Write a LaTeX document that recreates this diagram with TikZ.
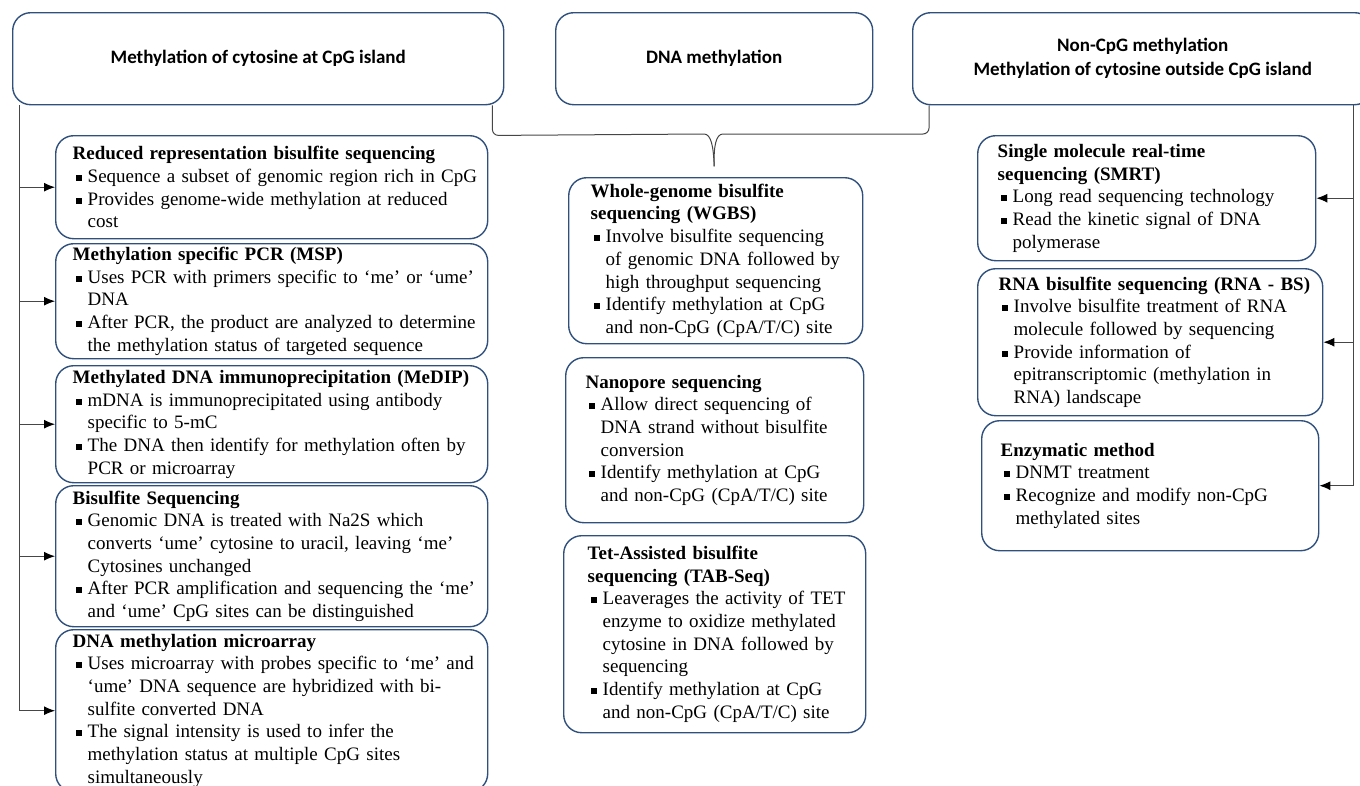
\documentclass[tikz,border=0pt]{standalone}
\usepackage{fontspec}
\setmainfont{Liberation Serif}
\newfontfamily\calibri{Carlito}
\usepackage{tikz}
\usetikzlibrary{arrows.meta}

\definecolor{boxblue}{RGB}{47,80,125}
\definecolor{linegray}{RGB}{70,70,70}
\newcommand{\hd}[1]{\mbox{\bfseries #1}}
\newcommand{\bul}[1]{\mbox{\makebox[15pt][l]{\hspace{3pt}\rule[1.5pt]{6pt}{6pt}}#1}}
\newcommand{\ind}[1]{\mbox{\hspace*{15pt}#1}}

\begin{document}
\begin{tikzpicture}[x=1pt,y=-1pt,
 head/.style={draw=boxblue,line width=1.4pt,rounded corners=18pt,anchor=north west,
  align=center,inner sep=0pt,font=\calibri\bfseries\fontsize{19}{24}\selectfont},
 method/.style={draw=boxblue,line width=1.4pt,rounded corners=18pt,anchor=north west,
  align=left,inner ysep=1pt,font=\fontsize{19}{22.7}\selectfont},
 conn/.style={draw=linegray,line width=1pt},
 arr/.style={conn,-{Latex[length=11pt,width=9pt,color=black]}}]
 \useasboundingbox (0,0) rectangle (1360,785);
 \clip (0,0) rectangle (1360,785);

 % top row
 \node[head,minimum width=491,minimum height=92] (cpg) at (12,12)
  {Methylation of cytosine at CpG island};
 \node[head,minimum width=317,minimum height=92] (dnam) at (555,12) {DNA methylation};
 \node[head,minimum width=460,minimum height=92] (nonc) at (912,12)
  {Non-CpG methylation\\Methylation of cytosine outside CpG island};

 % CpG island methods
 \node[method,inner xsep=17pt,text width=398pt,minimum height=103] (rrbs) at (55,135) {%
  \hd{Reduced representation bisulfite sequencing}\\
  \bul{Sequence a subset of genomic region rich in CpG}\\
  \bul{Provides genome-wide methylation at reduced}\\
  \ind{cost}};
 \node[method,inner xsep=17pt,text width=398pt,minimum height=115] (msp) at (55,243) {%
  \hd{Methylation specific PCR (MSP)}\\
  \bul{Uses PCR with primers specific to ‘me’ or ‘ume’}\\
  \ind{DNA}\\
  \bul{After PCR, the product are analyzed to determine}\\
  \ind{the methylation status of targeted sequence}};
 \node[method,inner xsep=17pt,text width=398pt,minimum height=117] (medip) at (55,365) {%
  \hd{Methylated DNA immunoprecipitation (MeDIP)}\\
  \bul{mDNA is immunoprecipitated using antibody}\\
  \ind{specific to 5-mC}\\
  \bul{The DNA then identify for methylation often by}\\
  \ind{PCR or microarray}};
 \node[method,inner xsep=17pt,text width=398pt,minimum height=141] (bis) at (55,485) {%
  \hd{Bisulfite Sequencing}\\
  \bul{Genomic DNA is treated with Na2S which}\\
  \ind{converts ‘ume’ cytosine to uracil, leaving ‘me’}\\
  \ind{Cytosines unchanged}\\
  \bul{After PCR amplification and sequencing the ‘me’}\\
  \ind{and ‘ume’ CpG sites can be distinguished}};
 \node[method,inner xsep=17pt,text width=398pt,minimum height=162] (micro) at (55,629) {%
  \hd{DNA methylation microarray}\\
  \bul{Uses microarray with probes specific to ‘me’ and}\\
  \ind{‘ume’ DNA sequence are hybridized with bi-}\\
  \ind{sulfite converted DNA}\\
  \bul{The signal intensity is used to infer the}\\
  \ind{methylation status at multiple CpG sites}\\
  \ind{simultaneously}};

 % general methods
 \node[method,inner xsep=22pt,text width=250pt,minimum height=166] (wgbs) at (568,177) {%
  \hd{Whole-genome bisulfite}\\
  \hd{sequencing (WGBS)}\\
  \bul{Involve bisulfite sequencing}\\
  \ind{of genomic DNA followed by}\\
  \ind{high throughput sequencing}\\
  \bul{Identify methylation at CpG}\\
  \ind{and non-CpG (CpA/T/C) site}};
 \node[method,inner xsep=20pt,text width=258pt,minimum height=165] (nano) at (565,357) {%
  \hd{Nanopore sequencing}\\
  \bul{Allow direct sequencing of}\\
  \ind{DNA strand without bisulfite}\\
  \ind{conversion}\\
  \bul{Identify methylation at CpG}\\
  \ind{and non-CpG (CpA/T/C) site}};
 \node[method,inner xsep=24pt,text width=254pt,minimum height=197] (tab) at (563,535) {%
  \hd{Tet-Assisted bisulfite}\\
  \hd{sequencing (TAB-Seq)}\\
  \bul{Leaverages the activity of TET}\\
  \ind{enzyme to oxidize methylated}\\
  \ind{cytosine in DNA followed by}\\
  \ind{sequencing}\\
  \bul{Identify methylation at CpG}\\
  \ind{and non-CpG (CpA/T/C) site}};

 % non-CpG methods
 \node[method,inner xsep=20pt,text width=298pt,minimum height=125] (smrt) at (977,135) {%
  \hd{Single molecule real-time}\\
  \hd{sequencing (SMRT)}\\
  \bul{Long read sequencing technology}\\
  \bul{Read the kinetic signal of DNA}\\
  \ind{polymerase}};
 \node[method,inner xsep=21pt,text width=303pt,minimum height=147] (rnabs) at (977,268) {%
  \hd{RNA bisulfite sequencing (RNA - BS)}\\
  \bul{Involve bisulfite treatment of RNA}\\
  \ind{molecule followed by sequencing}\\
  \bul{Provide information of}\\
  \ind{epitranscriptomic (methylation in}\\
  \ind{RNA) landscape}};
 \node[method,inner xsep=19pt,text width=299pt,minimum height=130] (enzy) at (981,420) {%
  \hd{Enzymatic method}\\
  \bul{DNMT treatment}\\
  \bul{Recognize and modify non-CpG}\\
  \ind{methylated sites}};

 % brace under the top row
 \coordinate (bl) at ([xshift=-12pt]cpg.south east);
 \coordinate (br) at ([xshift=17pt]nonc.south west);
 \coordinate (tip) at ([yshift=-61pt]dnam.south);
 \draw[conn] (bl) -- ++(0,24) to[out=-90,in=180] ++(6,6) -- (704,134)
  .. controls (711,134) and (713.5,146) .. (tip);
 \draw[conn] (tip) .. controls (713.5,146) and (716,134) .. (723,134) -- (923,134)
  to[out=0,in=-90] (929,128) -- (br);

 % left trunk
 \coordinate (lt) at ([xshift=7pt]cpg.south west);
 \draw[conn] (lt) -- (lt |- micro.west);
 \foreach \n in {rrbs,msp,medip,bis,micro}
  \draw[arr] (lt |- \n.west) -- (\n.west);

 % right trunk
 \coordinate (rt) at ([xshift=-20pt]nonc.south east);
 \draw[conn] (rt) -- (rt |- enzy.east);
 \foreach \n in {smrt,rnabs,enzy}
  \draw[arr] (rt |- \n.east) -- (\n.east);
\end{tikzpicture}
\end{document}
